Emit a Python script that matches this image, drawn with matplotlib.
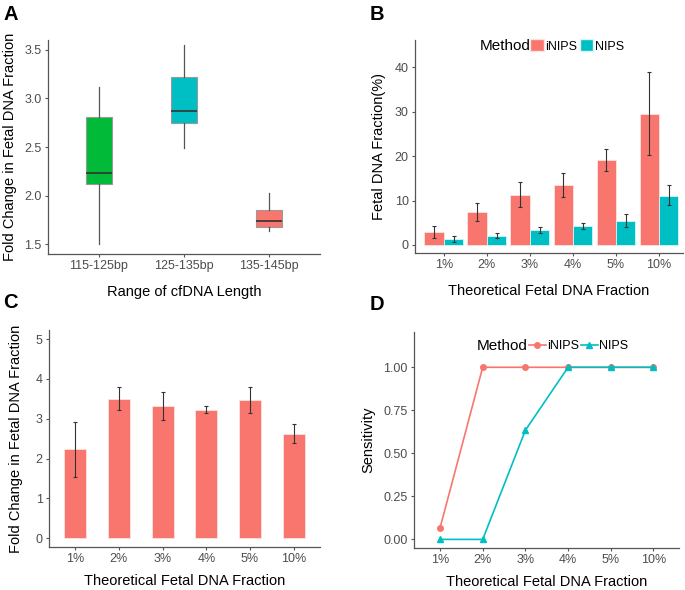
import matplotlib
matplotlib.use("Agg")
import matplotlib.pyplot as plt
import numpy as np
from matplotlib.patches import Patch

plt.rcParams['font.family'] = ['Liberation Sans', 'DejaVu Sans']

RED = '#F8766D'
CYAN = '#00BFC4'
GREEN = '#00BA38'
TICKC = '#4D4D4D'
SPINE = '#555555'

# Panel A data
a_cats = ['115-125bp', '125-135bp', '135-145bp']
a_whislo = [1.50, 2.49, 1.63]
a_q1 = [2.12, 2.75, 1.68]
a_med = [2.23, 2.87, 1.74]
a_q3 = [2.81, 3.22, 1.85]
a_whishi = [3.12, 3.55, 2.03]
a_colors = [GREEN, CYAN, RED]

# Panel B data
frac_labels = ['1%', '2%', '3%', '4%', '5%', '10%']
b_inips = [2.9, 7.4, 11.3, 13.5, 19.1, 29.5]
b_inips_lo = [1.65, 5.3, 8.6, 10.9, 16.6, 20.2]
b_inips_hi = [4.2, 9.5, 14.1, 16.2, 21.7, 38.9]
b_nips = [1.35, 2.1, 3.4, 4.2, 5.5, 11.1]
b_nips_lo = [0.6, 1.6, 2.6, 3.5, 4.0, 8.9]
b_nips_hi = [2.0, 2.6, 4.1, 5.0, 6.9, 13.5]

# Panel C data
c_vals = [2.23, 3.50, 3.32, 3.22, 3.47, 2.63]
c_lo = [1.54, 3.21, 2.96, 3.14, 3.15, 2.39]
c_hi = [2.92, 3.79, 3.67, 3.31, 3.79, 2.87]

# Panel D data
d_inips = [0.066, 1.0, 1.0, 1.0, 1.0, 1.0]
d_nips = [0.0, 0.0, 0.634, 1.0, 1.0, 1.0]

fig = plt.figure(figsize=(6.85, 5.90), dpi=100)
W, H = 685, 590

def add_ax(l, t, r, b):
    return fig.add_axes([l / W, 1 - b / H, (r - l) / W, (b - t) / H])

def style(ax):
    for s in ['top', 'right']:
        ax.spines[s].set_visible(False)
    for s in ['left', 'bottom']:
        ax.spines[s].set_color(SPINE)
        ax.spines[s].set_linewidth(0.9)
    ax.tick_params(axis='both', colors=SPINE, labelcolor=TICKC, labelsize=9,
                   length=2.5, width=0.8, pad=2)

axA = add_ax(48, 40, 320, 254)
axB = add_ax(415, 40, 683, 253)
axC = add_ax(49, 330, 320, 547)
axD = add_ax(414, 332, 679, 548)

TITLE_FS = 10.5
XPAD = 9

# ---- A
stats = []
for i in range(len(a_cats)):
    stats.append(dict(med=a_med[i], q1=a_q1[i], q3=a_q3[i],
                      whislo=a_whislo[i], whishi=a_whishi[i], fliers=[]))
pos = np.arange(1, len(a_cats) + 1)
bp = axA.bxp(stats, positions=pos, widths=0.31, patch_artist=True, showcaps=False,
             boxprops=dict(edgecolor='#9a9a9a', linewidth=0.8),
             medianprops=dict(color='#333333', linewidth=1.2),
             whiskerprops=dict(color='#555555', linewidth=0.9))
for patch, c in zip(bp['boxes'], a_colors):
    patch.set_facecolor(c)
axA.set_xticks(pos)
axA.set_xticklabels(a_cats)
axA.set_xlim(0.4, 3.6)
axA.set_ylim(1.397, 3.603)
axA.set_yticks([1.5, 2.0, 2.5, 3.0, 3.5])
axA.set_yticklabels(['1.5', '2.0', '2.5', '3.0', '3.5'])
axA.set_xlabel('Range of cfDNA Length', fontsize=TITLE_FS, labelpad=XPAD)
axA.set_ylabel('Fold Change in Fetal DNA Fraction', fontsize=TITLE_FS, labelpad=5)
style(axA)

# ---- B
x = np.arange(1, len(frac_labels) + 1)
bw = 0.45
axB.bar(x - bw / 2, b_inips, width=bw, color=RED, edgecolor='#fde3e0', linewidth=0.6)
axB.bar(x + bw / 2, b_nips, width=bw, color=CYAN, edgecolor='#d9f5f6', linewidth=0.6)
axB.errorbar(x - bw / 2, b_inips,
             yerr=[np.array(b_inips) - np.array(b_inips_lo), np.array(b_inips_hi) - np.array(b_inips)],
             fmt='none', ecolor='#333333', elinewidth=0.8, capsize=1.2, capthick=0.8)
axB.errorbar(x + bw / 2, b_nips,
             yerr=[np.array(b_nips) - np.array(b_nips_lo), np.array(b_nips_hi) - np.array(b_nips)],
             fmt='none', ecolor='#333333', elinewidth=0.8, capsize=1.2, capthick=0.8)
axB.set_xticks(x)
axB.set_xticklabels(frac_labels)
axB.set_xlim(0.33, 6.56)
axB.set_ylim(-1.8, 46.1)
axB.set_yticks([0, 10, 20, 30, 40])
axB.set_xlabel('Theoretical Fetal DNA Fraction', fontsize=TITLE_FS, labelpad=XPAD)
axB.set_ylabel('Fetal DNA Fraction(%)', fontsize=TITLE_FS, labelpad=6)
style(axB)
axB.text(0.243, 0.972, 'Method', transform=axB.transAxes, fontsize=11,
         va='center', ha='left')
hB = [Patch(facecolor=RED, edgecolor='#fde3e0'), Patch(facecolor=CYAN, edgecolor='#d9f5f6')]
axB.legend(hB, ['iNIPS', 'NIPS'], ncol=2, frameon=False, fontsize=9,
           loc='center left', bbox_to_anchor=(0.43, 0.972),
           handlelength=1.1, handleheight=1.1, handletextpad=0.1,
           columnspacing=0.2, borderpad=0, borderaxespad=0)

# ---- C
axC.bar(x, c_vals, width=0.5, color=RED, edgecolor='#fde3e0', linewidth=0.6)
axC.errorbar(x, c_vals,
             yerr=[np.array(c_vals) - np.array(c_lo), np.array(c_hi) - np.array(c_vals)],
             fmt='none', ecolor='#333333', elinewidth=0.8, capsize=1.2, capthick=0.8)
axC.set_xticks(x)
axC.set_xticklabels(frac_labels)
axC.set_xlim(0.4, 6.6)
axC.set_ylim(-0.22, 5.23)
axC.set_yticks([0, 1, 2, 3, 4, 5])
axC.set_xlabel('Theoretical Fetal DNA Fraction', fontsize=TITLE_FS, labelpad=6)
axC.set_ylabel('Fold Change in Fetal DNA Fraction', fontsize=TITLE_FS, labelpad=9)
style(axC)

# ---- D
axD.plot(x, d_inips, color=RED, lw=1.2, marker='o', ms=4, label='iNIPS', zorder=3)
axD.plot(x, d_nips, color=CYAN, lw=1.2, marker='^', ms=4.5, label='NIPS', zorder=3)
axD.set_xticks(x)
axD.set_xticklabels(frac_labels)
axD.set_xlim(0.39, 6.6)
axD.set_ylim(-0.05, 1.205)
axD.set_yticks([0, 0.25, 0.5, 0.75, 1.0])
axD.set_yticklabels(['0.00', '0.25', '0.50', '0.75', '1.00'])
axD.set_xlabel('Theoretical Fetal DNA Fraction', fontsize=TITLE_FS, labelpad=6)
axD.set_ylabel('Sensitivity', fontsize=TITLE_FS, labelpad=6)
style(axD)
axD.text(0.238, 0.935, 'Method', transform=axD.transAxes, fontsize=11,
         va='center', ha='left')
axD.legend(ncol=2, frameon=False, fontsize=9,
           loc='center left', bbox_to_anchor=(0.435, 0.935),
           handlelength=1.3, handletextpad=0.1,
           columnspacing=0.2, borderpad=0, borderaxespad=0)

# Panel letters
for lab, px, py in [('A', 3, 14), ('B', 370, 14), ('C', 3, 302), ('D', 370, 304)]:
    fig.text(px / W, 1 - py / H, lab, fontsize=14.5, fontweight='bold', va='center', ha='left')

fig.savefig('out.png', dpi=100)
